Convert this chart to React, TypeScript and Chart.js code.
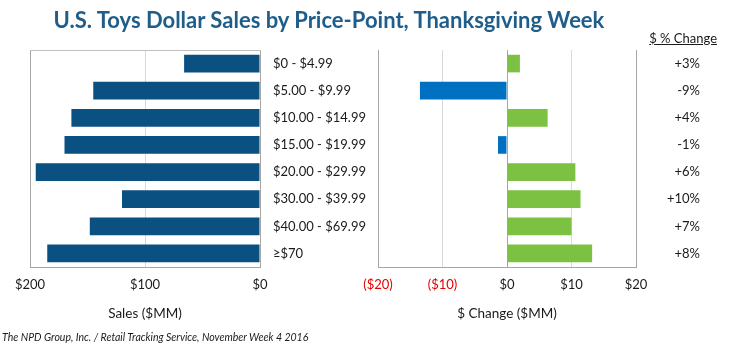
import React, { useEffect, useRef } from "react";
import { Chart, registerables } from "chart.js";

Chart.register(...registerables);

// ---- Data ----
const categories = [
  "$0 - $4.99",
  "$5.00 - $9.99",
  "$10.00 - $14.99",
  "$15.00 - $19.99",
  "$20.00 - $29.99",
  "$30.00 - $39.99",
  "$40.00 - $69.99",
  "≥$70",
];
const salesValues = [66, 145, 164, 170, 195, 120, 148, 185];
const changeValues = [2.0, -13.5, 6.3, -1.4, 10.6, 11.4, 10.0, 13.2];
const pctChangeLabels = ["+3%", "-9%", "+4%", "-1%", "+6%", "+10%", "+7%", "+8%"];
const salesTicks = [0, 100, 200];
const changeTicks = [-20, -10, 0, 10, 20];

const FONT = "Lato, 'Open Sans', sans-serif";
const TEXT = "#1a1a1a";
const EDGE = "#a6a6a6";
const GRID = "#d9d9d9";

const W = 730;
const H = 354;
const PLOT_TOP = 50;
const PAD_BOTTOM = 32;
const XAXIS_H = 55;

function fmtChange(v: number) {
  return v < 0 ? `($${-v})` : `$${v}`;
}

export default function App() {
  const leftRef = useRef<HTMLCanvasElement>(null);
  const rightRef = useRef<HTMLCanvasElement>(null);

  useEffect(() => {
    const left = new Chart(leftRef.current!, {
      type: "bar",
      data: {
        labels: categories,
        datasets: [
          {
            data: salesValues,
            backgroundColor: "#0A5080",
            borderWidth: 0,
            barPercentage: 0.65,
            categoryPercentage: 1,
          },
        ],
      },
      options: {
        indexAxis: "y",
        responsive: false,
        animation: false,
        events: [],
        layout: { padding: { left: 30, right: W - 260, top: PLOT_TOP, bottom: PAD_BOTTOM } },
        plugins: { legend: { display: false }, tooltip: { enabled: false } },
        scales: {
          x: {
            type: "linear",
            reverse: true,
            min: 0,
            max: 200,
            afterBuildTicks: (s: any) => {
              s.ticks = salesTicks.map((v) => ({ value: v }));
            },
            afterFit: (s: any) => {
              s.height = XAXIS_H;
            },
            grid: {
              drawTicks: false,
              color: (c: any) => (c.tick && c.tick.value === 100 ? GRID : EDGE),
            },
            border: { display: true, color: EDGE },
            ticks: {
              padding: 10,
              color: TEXT,
              font: { family: FONT, size: 13 },
              callback: (v: any) => `$${v}`,
            },
            title: {
              display: true,
              text: "Sales ($MM)",
              color: TEXT,
              font: { family: FONT, size: 13.5 },
              padding: 0,
            },
          },
          xTop: {
            axis: "x",
            type: "linear",
            position: "top",
            min: 0,
            max: 200,
            grid: { display: false, drawTicks: false },
            ticks: { display: false },
            border: { display: true, color: "#bfbfbf" },
            afterFit: (s: any) => {
              s.height = 0;
            },
          },
          y: { type: "category", display: false, offset: true },
        },
      } as any,
    });

    const right = new Chart(rightRef.current!, {
      type: "bar",
      data: {
        labels: categories,
        datasets: [
          {
            data: changeValues,
            backgroundColor: changeValues.map((v) => (v < 0 ? "#0070C0" : "#7CC142")),
            borderWidth: 0,
            barPercentage: 0.65,
            categoryPercentage: 1,
          },
        ],
      },
      options: {
        indexAxis: "y",
        responsive: false,
        animation: false,
        events: [],
        layout: { padding: { left: 273, right: 30, top: PLOT_TOP, bottom: PAD_BOTTOM } },
        plugins: { legend: { display: false }, tooltip: { enabled: false } },
        scales: {
          x: {
            type: "linear",
            min: -20,
            max: 20,
            afterBuildTicks: (s: any) => {
              s.ticks = changeTicks.map((v) => ({ value: v }));
            },
            afterFit: (s: any) => {
              s.height = XAXIS_H;
            },
            grid: {
              drawTicks: false,
              color: (c: any) =>
                c.tick && Math.abs(c.tick.value) === 10 ? GRID : EDGE,
            },
            border: { display: true, color: EDGE },
            ticks: {
              padding: 10,
              color: (c: any) => (c.tick && c.tick.value < 0 ? "#E60000" : TEXT),
              font: { family: FONT, size: 13 },
              callback: (v: any) => fmtChange(Number(v)),
            },
            title: {
              display: true,
              text: "$ Change ($MM)",
              color: TEXT,
              font: { family: FONT, size: 13.5 },
              padding: 0,
            },
          },
          y: {
            type: "category",
            position: "left",
            offset: true,
            afterFit: (s: any) => {
              s.width = 105;
            },
            grid: { display: false, drawTicks: false },
            border: { display: false },
            ticks: {
              crossAlign: "far",
              padding: 0,
              color: TEXT,
              font: { family: FONT, size: 13 },
            },
          },
          y2: {
            axis: "y",
            type: "category",
            position: "right",
            labels: pctChangeLabels,
            offset: true,
            afterFit: (s: any) => {
              s.width = 64;
            },
            grid: { display: false, drawTicks: false },
            border: { display: false },
            ticks: {
              crossAlign: "far",
              padding: 0,
              color: TEXT,
              font: { family: FONT, size: 13 },
            },
          },
        },
      } as any,
    });

    return () => {
      left.destroy();
      right.destroy();
    };
  }, []);

  const abs: React.CSSProperties = { position: "absolute" };

  return (
    <div
      style={{
        position: "fixed",
        left: 0,
        top: 0,
        width: W,
        height: H,
        background: "#fff",
        overflow: "hidden",
        fontFamily: FONT,
      }}
    >
      <canvas ref={leftRef} width={W} height={H} style={{ ...abs, left: 0, top: 0, width: W, height: H }} />
      <canvas ref={rightRef} width={W} height={H} style={{ ...abs, left: 0, top: 0, width: W, height: H }} />
      <div
        style={{
          ...abs,
          left: 0,
          width: 658,
          top: 7,
          textAlign: "center",
          fontWeight: 700,
          fontSize: 22,
          lineHeight: "26px",
          color: "#1F5E8B",
          whiteSpace: "nowrap",
        }}
      >
        U.S. Toys Dollar Sales by Price-Point, Thanksgiving Week
      </div>
      <div
        style={{
          ...abs,
          right: 13,
          top: 30,
          fontSize: 13,
          lineHeight: "16px",
          color: TEXT,
          textDecoration: "underline",
          whiteSpace: "nowrap",
        }}
      >
        $ % Change
      </div>
      <div
        style={{
          ...abs,
          left: 2,
          top: 331,
          fontSize: 10.5,
          lineHeight: "13px",
          fontStyle: "italic",
          color: TEXT,
          whiteSpace: "nowrap",
        }}
      >
        The NPD Group, Inc. / Retail Tracking Service, November Week 4 2016
      </div>
    </div>
  );
}
